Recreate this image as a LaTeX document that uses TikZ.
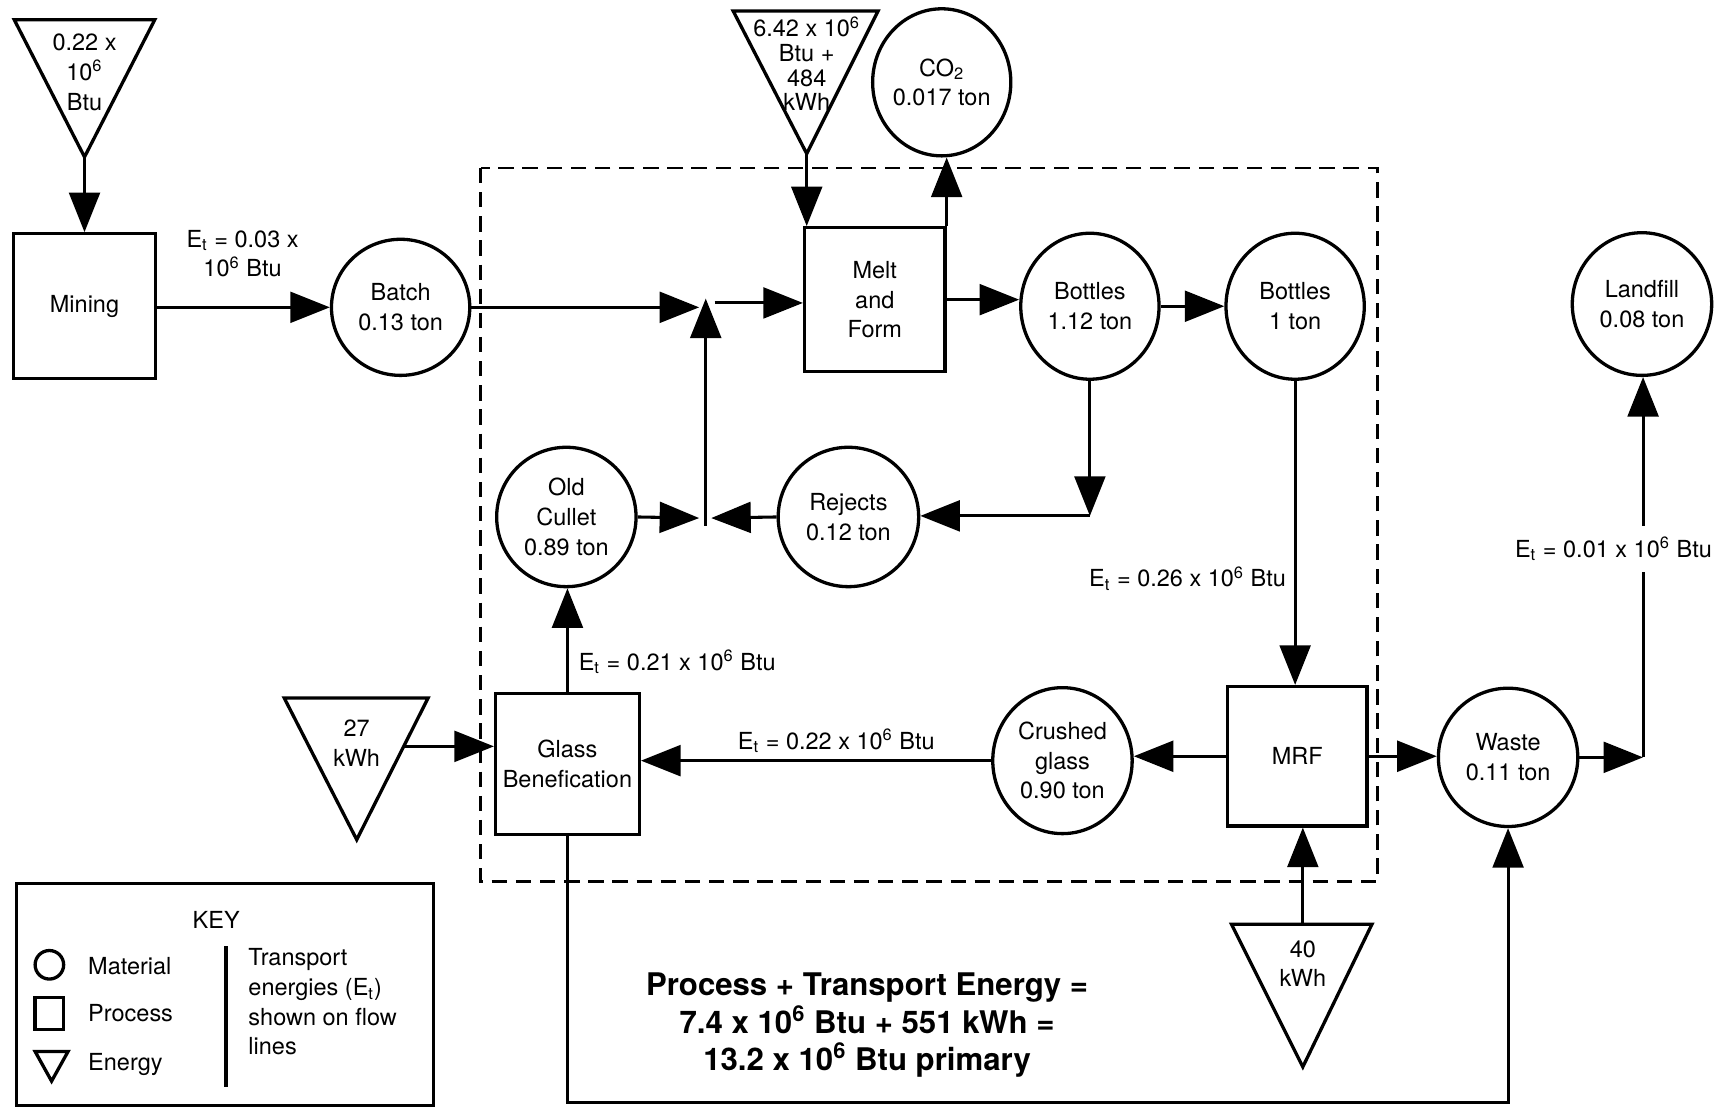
\documentclass[tikz,border=0pt]{standalone}
\usepackage{fontspec}
\setmainfont{TeX Gyre Heros}
\usetikzlibrary{arrows.meta,shapes.geometric,calc}
\newcommand\flowfont{\fontsize{10.7}{13.5}\selectfont}

\begin{document}
\begin{tikzpicture}[x=0.5pt,y=-0.5pt,
    material/.style={ellipse,draw,line width=1.5pt,inner sep=0pt,align=center,font=\flowfont},
    process/.style={rectangle,draw,line width=1.5pt,inner sep=0pt,align=center,font=\flowfont},
    energy/.style={draw,line width=1.5pt},
    flow/.style={line width=1.4pt,-{Triangle[length=18pt,width=14pt]}},
    lbl/.style={align=center,inner sep=1pt,font=\flowfont}]
  \useasboundingbox (0,0) rectangle (1568,1009);
  % plant boundary
  \draw[line width=1.2pt,dash pattern=on 7pt off 4pt] (438,153) rectangle (1255,803);
  % processes
  \node[process,minimum width=64.5pt,minimum height=66pt] (mining) at (77,279) {Mining};
  \node[process,minimum width=64pt,minimum height=65.5pt] (melt) at (797,273) {Melt\\and\\Form};
  \node[process,minimum width=65.5pt,minimum height=64pt] (glassben) at (517,696) {Glass\\Benefication};
  \node[process,minimum width=63.5pt,minimum height=63.5pt] (mrf) at (1182,689) {MRF};
  % materials
  \node[material,minimum width=63pt,minimum height=62pt] (batch) at (365,280) {Batch\\0.13 ton};
  \node[material,minimum width=62.5pt,minimum height=67pt] (co2) at (858,75) {CO\textsubscript{2}\\0.017 ton};
  \node[material,minimum width=63pt,minimum height=66.5pt] (b112) at (993,279) {Bottles\\1.12 ton};
  \node[material,minimum width=63pt,minimum height=66.5pt] (b1) at (1180,279) {Bottles\\1 ton};
  \node[material,minimum width=63.5pt,minimum height=65pt] (landfill) at (1496,277) {Landfill\\0.08 ton};
  \node[material,minimum width=63.5pt,minimum height=63.5pt] (oldcullet) at (516,471) {Old\\Cullet\\0.89 ton};
  \node[material,minimum width=64pt,minimum height=63.5pt] (rejects) at (773,471) {Rejects\\0.12 ton};
  \node[material,minimum width=63.5pt,minimum height=66.5pt] (crushed) at (968,693) {Crushed\\glass\\0.90 ton};
  \node[material,minimum width=63.5pt,minimum height=63pt] (waste) at (1374,690) {Waste\\0.11 ton};
  % energy inputs
  \draw[energy] (13,18) -- (141,18) -- (77,143) -- cycle;
  \coordinate (e1tip) at (77,143);
  \node[lbl] (e1) at (77,66) {0.22 x\\10\textsuperscript{6}\\Btu};
  \draw[energy] (668,10) -- (800,10) -- (735,140) -- cycle;
  \coordinate (e2tip) at (735,140);
  \node[lbl,font=\fontsize{10.7}{11.2}\selectfont] (e2) at (735,58) {6.42 x 10\textsuperscript{6}\\Btu +\\484\\kWh};
  \draw[energy] (259,636) -- (390,636) -- (325,765) -- cycle;
  \coordinate (e3out) at (368,680);
  \node[lbl] (e3) at (325,677) {27\\kWh};
  \draw[energy] (1122,842) -- (1250,842) -- (1187,972) -- cycle;
  \coordinate (e4top) at (1187,842);
  \node[lbl] (e4) at (1187,878) {40\\kWh};
  % flows
  \coordinate (mix) at (643,276);
  \coordinate (mixlow) at (643,472);
  \coordinate (rejturn) at (993,470);
  \coordinate (wasteturn) at (1497,690);
  \draw[flow] (e1tip) -- (mining.north);
  \draw[flow] (mining.east |- batch) -- (batch.west);
  \draw[flow] (batch.east) -- ($(batch.east -| mix)+(-6,0)$);
  \draw[flow] ($(mixlow)+(0,7)$) -- ($(mix)+(0,-4)$);
  \draw[flow] ($(mix)+(8,0)$) -- (melt.west |- mix);
  \draw[flow] (oldcullet.east) -- ($(mixlow)+(-6,0)$);
  \draw[flow] (rejects.west) -- ($(mixlow)+(5,0)$);
  \draw[flow] (e2tip) -- (e2tip |- melt.north);
  \draw[flow] (melt.north east) -- (melt.north east |- co2.south);
  \draw[flow] (melt.east) -- (melt.east -| b112.west);
  \draw[flow] (b112.east) -- (b1.west);
  \draw[flow] (b112.south) -- (rejturn);
  \draw[flow] (rejturn) -- (rejturn -| rejects.east);
  \draw[flow] (b1.south) -- (b1.south |- mrf.north);
  \draw[flow] (e4top) -- (e4top |- mrf.south);
  \draw[flow] (mrf.west) -- (mrf.west -| crushed.east);
  \draw[flow] (crushed.west) -- (crushed.west -| glassben.east);
  \draw[flow] (glassben.north) -- (glassben.north |- oldcullet.south);
  \draw[flow] (e3out) -- (e3out -| glassben.west);
  \draw[flow] (mrf.east) -- (mrf.east -| waste.west);
  \draw[flow] (waste.east) -- (wasteturn);
  \draw[flow] (wasteturn) -- (wasteturn |- landfill.south);
  \draw[flow] (glassben.south) -- ++(0,243) -| (waste.south);
  % transport energies
  \node[lbl] (et1) at (221,231) {E\textsubscript{t} = 0.03 x\\10\textsuperscript{6} Btu};
  \node[lbl] (et2) at (617,603) {E\textsubscript{t} = 0.21 x 10\textsuperscript{6} Btu};
  \node[lbl] (et3) at (762,675) {E\textsubscript{t} = 0.22 x 10\textsuperscript{6} Btu};
  \node[lbl] (et4) at (1082,527) {E\textsubscript{t} = 0.26 x 10\textsuperscript{6} Btu};
  \node[lbl,fill=white,inner ysep=5pt] (et5) at (1470,500) {E\textsubscript{t} = 0.01 x 10\textsuperscript{6} Btu};
  % total
  \node[align=center,font=\fontsize{14.2}{17}\selectfont\bfseries] (total) at (790,934) {Process + Transport Energy =\\7.4 x 10\textsuperscript{6} Btu + 551 kWh =\\13.2 x 10\textsuperscript{6} Btu primary};
  % key
  \draw[line width=1.5pt] (15,805) rectangle (395,1007);
  \node[lbl] (keyhead) at (197,838) {KEY};
  \draw[line width=1.5pt] (45,879) circle[radius=13];
  \draw[line width=1.5pt] (32,909) rectangle (58,938);
  \draw[line width=1.5pt] (32,958) -- (62,958) -- (47,985) -- cycle;
  \node[lbl,anchor=west] (kmat) at (78,880) {Material};
  \node[lbl,anchor=west] (kproc) at (78,923) {Process};
  \node[lbl,anchor=west] (keng) at (78,970) {Energy};
  \draw[line width=1.5pt] (206,862) -- (206,990);
  \node[lbl,anchor=north west,align=left] (ktrans) at (224,862) {Transport\\energies (E\textsubscript{t})\\shown on flow\\lines};
\end{tikzpicture}
\end{document}
